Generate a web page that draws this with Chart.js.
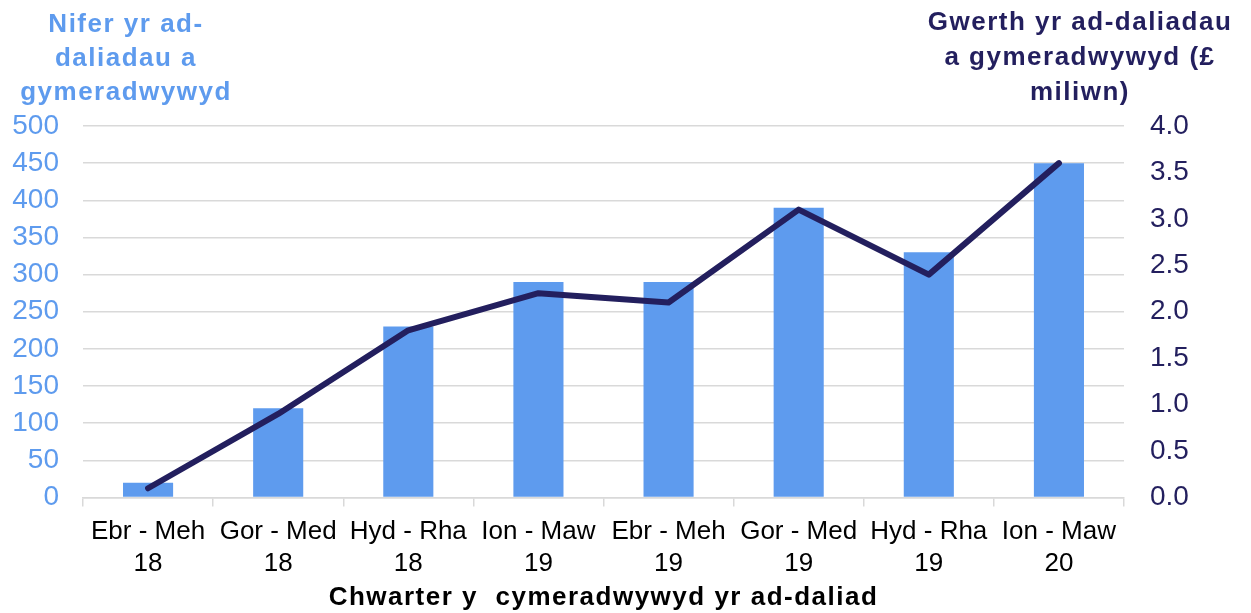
<!DOCTYPE html>
<html>
<head>
<meta charset="utf-8">
<script src="https://cdn.jsdelivr.net/npm/chart.js@4/dist/chart.umd.min.js"></script>
<style>
  html, body { margin: 0; padding: 0; background: #fff; }
  #wrap { width: 1251px; height: 613px; position: relative; }
</style>
</head>
<body>
<div id="wrap"><canvas id="myChart"></canvas></div>
<script>
const ctx = document.getElementById('myChart').getContext('2d');

const chwarteri = [
  ['Ebr - Meh', '18'], ['Gor - Med', '18'], ['Hyd - Rha', '18'], ['Ion - Maw', '19'],
  ['Ebr - Meh', '19'], ['Gor - Med', '19'], ['Hyd - Rha', '19'], ['Ion - Maw', '20']
];
const niferAdDaliadau = [20, 120, 230, 290, 290, 390, 330, 450];
const gwerthAdDaliadau = [0.1, 0.9, 1.8, 2.2, 2.1, 3.1, 2.4, 3.6];

const teitlChwith = ['Nifer yr ad-', 'daliadau a', 'gymeradwywyd'];
const teitlDde = ['Gwerth yr ad-daliadau', 'a gymeradwywyd (£', 'miliwn)'];
const teitlX = 'Chwarter y  cymeradwywyd yr ad-daliad';

const glas = '#5E9BEE';
const porffor = '#231F5E';
const ffont = '"Liberation Sans", Arial, sans-serif';

// teitlau llorweddol uwchben yr echelinau
const teitlau = {
  id: 'teitlau',
  afterDraw(chart) {
    const c = chart.ctx;
    c.save();
    c.textAlign = 'center';
    c.textBaseline = 'middle';
    c.font = 'bold 26px ' + ffont;
    if ('letterSpacing' in c) c.letterSpacing = '1.5px';
    c.fillStyle = glas;
    teitlChwith.forEach((t, i) => c.fillText(t, 126, 25 + i * 34));
    c.fillStyle = porffor;
    teitlDde.forEach((t, i) => c.fillText(t, 1080, 23 + i * 35));
    c.fillStyle = '#000';
    const area = chart.chartArea;
    c.fillText(teitlX, (area.left + area.right) / 2, 598);
    c.restore();
  }
};

new Chart(ctx, {
  data: {
    labels: chwarteri,
    datasets: [
      {
        type: 'line',
        label: 'Gwerth',
        data: gwerthAdDaliadau,
        yAxisID: 'y1',
        borderColor: porffor,
        borderWidth: 6,
        borderCapStyle: 'round',
        borderJoinStyle: 'round',
        pointRadius: 0,
        tension: 0,
        order: 1
      },
      {
        type: 'bar',
        label: 'Nifer',
        data: niferAdDaliadau,
        yAxisID: 'y',
        backgroundColor: glas,
        barPercentage: 0.385,
        categoryPercentage: 1,
        order: 2
      }
    ]
  },
  options: {
    responsive: true,
    maintainAspectRatio: false,
    animation: false,
    layout: { padding: { top: 126, left: 9, right: 63, bottom: 24 } },
    plugins: {
      legend: { display: false },
      tooltip: { enabled: false }
    },
    scales: {
      x: {
        offset: true,
        afterFit: s => { s.paddingLeft = 0; s.paddingRight = 0; },
        grid: {
          drawOnChartArea: false,
          drawTicks: true,
          tickLength: 9,
          color: '#D9D9D9',
          lineWidth: 1.5
        },
        border: { color: '#D9D9D9', width: 1.5 },
        ticks: {
          color: '#000',
          font: { family: ffont, size: 26, lineHeight: 1.24 },
          padding: 9,
          maxRotation: 0,
          autoSkip: false
        }
      },
      y: {
        position: 'left',
        min: 0,
        max: 500,
        afterFit: s => { s.width = 74; },
        ticks: {
          stepSize: 50,
          autoSkip: false,
          color: glas,
          font: { family: ffont, size: 28 },
          padding: 24
        },
        grid: { color: '#D9D9D9', lineWidth: 1.5, drawTicks: false },
        border: { display: false }
      },
      y1: {
        position: 'right',
        min: 0,
        max: 4,
        afterFit: s => { s.width = 64; },
        ticks: {
          stepSize: 0.5,
          autoSkip: false,
          color: porffor,
          font: { family: ffont, size: 28 },
          padding: 26,
          callback: v => v.toFixed(1)
        },
        grid: { drawOnChartArea: false, drawTicks: false },
        border: { display: false }
      }
    }
  },
  plugins: [teitlau]
});
</script>
</body>
</html>
